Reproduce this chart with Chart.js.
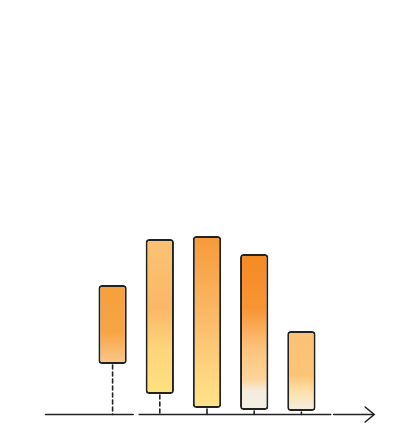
<!DOCTYPE html>
<html>
<head>
<meta charset="utf-8">
<style>
  html, body { margin: 0; padding: 0; background: #ffffff; }
  canvas { display: block; }
</style>
<script src="https://cdn.jsdelivr.net/npm/chart.js@4/dist/chart.umd.min.js"></script>
</head>
<body>
<canvas id="chart" width="406" height="428"></canvas>
<script>
// Chart data (floating bars: low, high)
const categories = ['A', 'B', 'C', 'D', 'E'];
const lowValues = [50, 20, 6, 4, 3];
const highValues = [129, 175, 178, 160, 83];
const axisMin = 0;
const axisMax = 184;

// Gradient stops per bar (top -> bottom)
const barGradients = [
    [[0, '#f6a03d'], [0.6, '#f7a445'], [1, '#fbc98a']],
    [[0, '#fbc274'], [0.45, '#fab866'], [0.7, '#fdd47a'], [1, '#fee27f']],
    [[0, '#f79a3a'], [0.45, '#fab866'], [0.75, '#fdd27c'], [1, '#fde38a']],
    [[0, '#f58a22'], [0.35, '#f79535'], [0.6, '#fcc27a'], [0.8, '#fdd59a'], [0.88, '#f5ecdf'], [1, '#f3efe6']],
    [[0, '#fbc278'], [0.55, '#fcc475'], [0.75, '#fde0a8'], [1, '#f3eee3']]
];

const inkColor = '#222222';

// Draws the bar fill gradient from the bar's own top to bottom
function barFill(context) {
    const chart = context.chart;
    const i = context.dataIndex;
    if (!chart.chartArea || i === undefined) return '#f7a445';
    const yScale = chart.scales.y;
    const top = yScale.getPixelForValue(highValues[i]);
    const bottom = yScale.getPixelForValue(lowValues[i]);
    const grad = chart.ctx.createLinearGradient(0, top, 0, bottom);
    barGradients[i].forEach(stop => grad.addColorStop(stop[0], stop[1]));
    return grad;
}

// Baseline with gaps, arrow, and connectors from bars down to the baseline
const baselinePlugin = {
    id: 'baseline',
    beforeDatasetsDraw(chart) {
        const ctx = chart.ctx;
        const area = chart.chartArea;
        const xScale = chart.scales.x;
        const yScale = chart.scales.y;
        const baseY = yScale.getPixelForValue(axisMin) + 0.5;
        const step = xScale.getPixelForValue(1) - xScale.getPixelForValue(0);

        ctx.save();
        ctx.strokeStyle = inkColor;
        ctx.lineWidth = 1.6;
        ctx.lineCap = 'round';

        // connectors
        const meta = chart.getDatasetMeta(0);
        meta.data.forEach((bar, i) => {
            const x = bar.x;
            const bottom = yScale.getPixelForValue(lowValues[i]) + 1;
            ctx.beginPath();
            ctx.setLineDash(baseY - bottom > 12 ? [4, 3] : []);
            ctx.moveTo(x, bottom);
            ctx.lineTo(x, baseY);
            ctx.stroke();
        });
        ctx.setLineDash([]);

        // baseline segments
        const left = area.left - step * 0.92;
        const gap1 = (xScale.getPixelForValue(0) + xScale.getPixelForValue(1)) / 2;
        const end = area.right + step * 1.02;
        const gap2 = area.right + step * 0.12;
        const segments = [
            [left, gap1 - 3],
            [gap1 + 3, gap2],
            [gap2 + 3, end]
        ];
        ctx.beginPath();
        segments.forEach(s => {
            ctx.moveTo(s[0], baseY);
            ctx.lineTo(s[1], baseY);
        });
        ctx.stroke();

        // arrow head
        ctx.beginPath();
        ctx.moveTo(end - 8, baseY - 7.5);
        ctx.lineTo(end + 1, baseY);
        ctx.lineTo(end - 8, baseY + 7.5);
        ctx.stroke();
        ctx.restore();
    }
};

const ctx = document.getElementById('chart').getContext('2d');
new Chart(ctx, {
    type: 'bar',
    data: {
        labels: categories,
        datasets: [{
            data: categories.map((c, i) => [lowValues[i], highValues[i]]),
            backgroundColor: barFill,
            borderColor: inkColor,
            borderWidth: 2,
            borderRadius: 3.5,
            borderSkipped: false,
            categoryPercentage: 1,
            barPercentage: 0.6
        }]
    },
    options: {
        responsive: false,
        animation: false,
        layout: {
            padding: { left: 89, right: 81, top: 230, bottom: 14 }
        },
        plugins: {
            legend: { display: false },
            tooltip: { enabled: false }
        },
        scales: {
            x: { display: false },
            y: { display: false, min: axisMin, max: axisMax }
        }
    },
    plugins: [baselinePlugin]
});
</script>
</body>
</html>
